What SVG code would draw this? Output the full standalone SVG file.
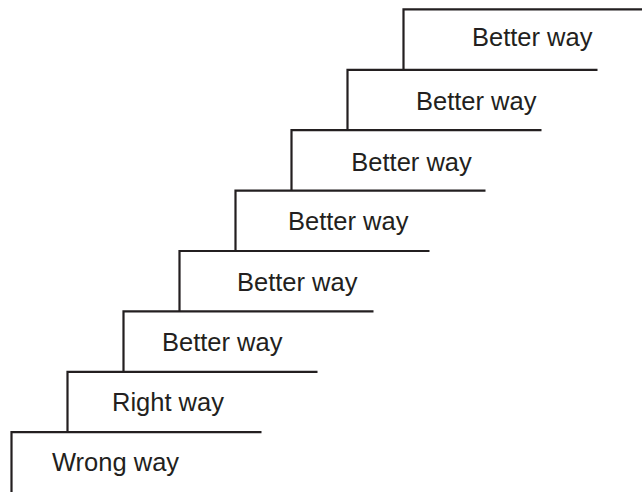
<svg xmlns="http://www.w3.org/2000/svg" width="642" height="492" viewBox="0 0 642 492">
  <style>
    .step { fill: none; stroke: #231f20; stroke-width: 2.2; stroke-linecap: butt; stroke-linejoin: miter; }
    .lbl { font-family: "Liberation Sans", Arial, sans-serif; font-size: 25.5px; fill: #231f20; }
  </style>
  <rect width="642" height="492" fill="#ffffff"/>
  <!-- Staircase: each tread is a riser plus a horizontal line with its label -->
  <g id="step-wrong">
    <path class="step" d="M11.5 492 V432.2 H261.5"/>
    <text class="lbl" x="52" y="471">Wrong way</text>
  </g>
  <g id="step-right">
    <path class="step" d="M67.5 432.2 V371.8 H317.5"/>
    <text class="lbl" x="112" y="411.3">Right way</text>
  </g>
  <g id="step-better-1">
    <path class="step" d="M123.5 371.8 V311.4 H373.5"/>
    <text class="lbl" x="162" y="350.8">Better way</text>
  </g>
  <g id="step-better-2">
    <path class="step" d="M179.5 311.4 V251 H429.5"/>
    <text class="lbl" x="237" y="290.5">Better way</text>
  </g>
  <g id="step-better-3">
    <path class="step" d="M235.5 251 V190.6 H485.5"/>
    <text class="lbl" x="288" y="230.3">Better way</text>
  </g>
  <g id="step-better-4">
    <path class="step" d="M291.5 190.6 V130.2 H541.5"/>
    <text class="lbl" x="351.3" y="170.5">Better way</text>
  </g>
  <g id="step-better-5">
    <path class="step" d="M347.5 130.2 V69.8 H597.5"/>
    <text class="lbl" x="416" y="109.5">Better way</text>
  </g>
  <g id="step-better-6">
    <path class="step" d="M403.5 69.8 V9.4 H642"/>
    <text class="lbl" x="472" y="46">Better way</text>
  </g>
  <g id="connectors"/>
</svg>
